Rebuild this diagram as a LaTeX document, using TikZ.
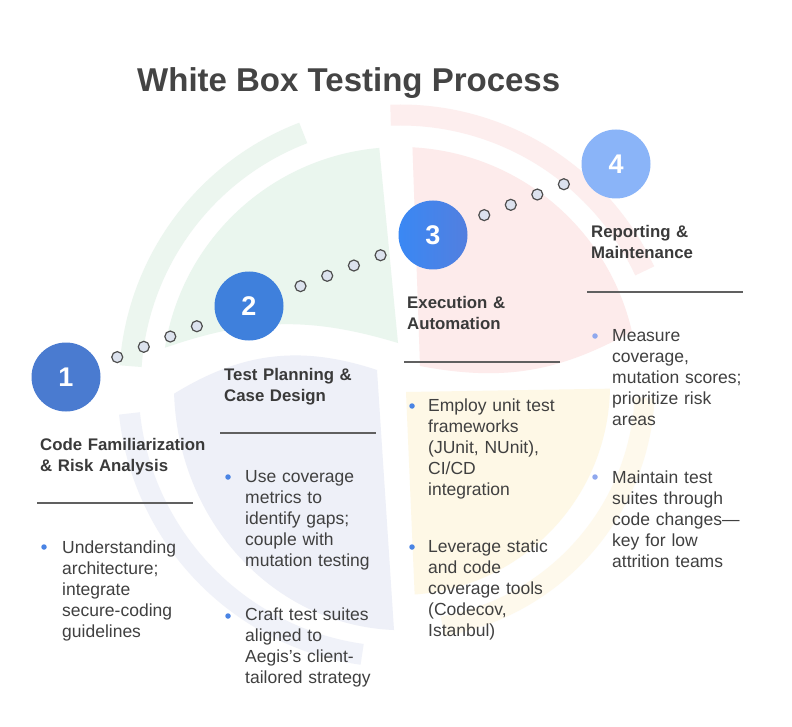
\documentclass[tikz,border=0pt]{standalone}
\usepackage{fontspec}
\setmainfont{Liberation Sans}
\usetikzlibrary{calc}
\definecolor{txt}{HTML}{404040}
\definecolor{hd}{HTML}{3A3A3A}
\definecolor{ttl}{HTML}{444444}
\definecolor{grnF}{HTML}{EAF6EE}
\definecolor{grnA}{HTML}{ECF6EF}
\definecolor{pnkF}{HTML}{FDEBEB}
\definecolor{pnkA}{HTML}{FDEEEE}
\definecolor{yelF}{HTML}{FEF8E6}
\definecolor{yelA}{HTML}{FEF9EC}
\definecolor{lavF}{HTML}{EEF0F8}
\definecolor{lavA}{HTML}{F0F2F9}
\definecolor{cA}{HTML}{4A7BD0}
\definecolor{cB}{HTML}{3F80DC}
\definecolor{cCl}{HTML}{3A88F4}
\definecolor{cCr}{HTML}{527FDF}
\definecolor{cD}{HTML}{8AB4F8}
\definecolor{dotF}{HTML}{DCE2EE}
\definecolor{dotD}{HTML}{4E4E4E}
\definecolor{bulC}{HTML}{4A84E4}
\definecolor{bulL}{HTML}{8FA8EE}
\definecolor{divC}{HTML}{606060}
\begin{document}
\begin{tikzpicture}[x=1pt,y=1pt,
  heading/.style={font=\bfseries\fontsize{16.8}{21}\selectfont, text=hd, anchor=base west, inner sep=0pt, align=left, text width=200pt},
  body/.style={font=\fontsize{17.5}{21}\selectfont, text=txt, anchor=base west, inner sep=0pt, align=left, text width=170pt},
  numc/.style={circle, minimum size=69pt, inner sep=0pt, text=white, font=\bfseries\fontsize{27}{27}\selectfont},
  dotc/.style={circle, minimum size=11pt, inner sep=0pt, fill=dotF, draw=dotD, line width=1.2pt},
  bul/.style={circle, minimum size=5.5pt, inner sep=0pt, fill=bulC},
  bulx/.style={circle, minimum size=5.5pt, inner sep=0pt, fill=bulL},
  divider/.style={draw=divC, line width=1.3pt}
]
\useasboundingbox[fill=white] (0,0) rectangle (792,-727);
\coordinate (C) at (400,-385);
% background quadrants
\fill[grnF] (398,-343) -- ($(C)+(95:238)$) arc[start angle=95, end angle=171, radius=238] to[bend left=18] (398,-343) -- cycle;
\fill[pnkF] (420,-366) -- ($(C)+(87:238)$) arc[start angle=87, end angle=13, radius=238] to[bend left=20] (420,-366) -- cycle;
\fill[yelF] (406,-392) -- ($(C)+(-1:210)$) arc[start angle=-1, end angle=-86, radius=210] -- cycle;
\fill[lavF] (377,-370) -- (394,-630) arc[start angle=268, end angle=182, x radius=228, y radius=245] to[bend left=25] (377,-370) -- cycle;
\draw[grnA, line width=22pt] ($(C)+(111:270)$) arc[start angle=111, end angle=176, radius=270];
\draw[pnkA, line width=21pt] ($(C)+(92:270)$) arc[start angle=92, end angle=25, radius=270];
\draw[yelA, line width=20pt] ($(C)+(-3:245)$) arc[start angle=-3, end angle=-80, radius=245];
\draw[lavA, line width=21pt] ($(C)+(186:272)$) arc[start angle=186, end angle=262, radius=272];

% title
\node[anchor=base west, inner sep=0pt, font=\bfseries\fontsize{33}{33}\selectfont, text=ttl] (title) at (137,-92) {White Box Testing Process};

% step circles
\node[numc, fill=cA] (n1) at (66,-377) {1};
\node[numc, fill=cB] (n2) at (249,-306) {2};
\node[numc, left color=cCl, right color=cCr] (n3) at (433,-235) {3};
\node[numc, fill=cD] (n4) at (616,-164) {4};

% dotted connectors
\foreach \a/\b in {n1/n2, n2/n3, n3/n4}{
  \path (\a.center) -- (\b.center)
    node[dotc, pos=0.28] (\a-\b-1) {}
    node[dotc, pos=0.425] (\a-\b-2) {}
    node[dotc, pos=0.57] (\a-\b-3) {}
    node[dotc, pos=0.715] (\a-\b-4) {};
}

% column 1
\node[heading] (h1) at (40,-450) {Code Familiarization\\\& Risk Analysis};
\draw[divider] (37,-503) -- (193,-503);
\node[bul] (b1a) at (44,-547) {};
\node[body] (t1a) at (62,-553) {Understanding\\architecture;\\integrate\\secure-coding\\guidelines};

% column 2
\node[heading] (h2) at (224,-380) {Test Planning \&\\Case Design};
\draw[divider] (220,-433) -- (376,-433);
\node[bul] (b2a) at (228,-477) {};
\node[body] (t2a) at (245,-482) {Use coverage\\metrics to\\identify gaps;\\couple with\\mutation testing};
\node[bul] (b2b) at (228,-616) {};
\node[body] (t2b) at (245,-620) {Craft test suites\\aligned to\\Aegis’s client-\\tailored strategy};

% column 3
\node[heading] (h3) at (407,-308) {Execution \&\\Automation};
\draw[divider] (404,-362) -- (560,-362);
\node[bul] (b3a) at (412,-406) {};
\node[body] (t3a) at (428,-411) {Employ unit test\\frameworks\\(JUnit, NUnit),\\CI/CD\\integration};
\node[bul] (b3b) at (412,-547) {};
\node[body] (t3b) at (428,-552) {Leverage static\\and code\\coverage tools\\(Codecov,\\Istanbul)};

% column 4
\node[heading] (h4) at (591,-238) {Reporting \&\\Maintenance};
\draw[divider] (587,-292) -- (743,-292);
\node[bulx] (b4a) at (595,-336) {};
\node[body] (t4a) at (612,-341) {Measure\\coverage,\\mutation scores;\\prioritize risk\\areas};
\node[bulx] (b4b) at (595,-477) {};
\node[body] (t4b) at (612,-483) {Maintain test\\suites through\\code changes—\\key for low\\attrition teams};
\end{tikzpicture}
\end{document}
